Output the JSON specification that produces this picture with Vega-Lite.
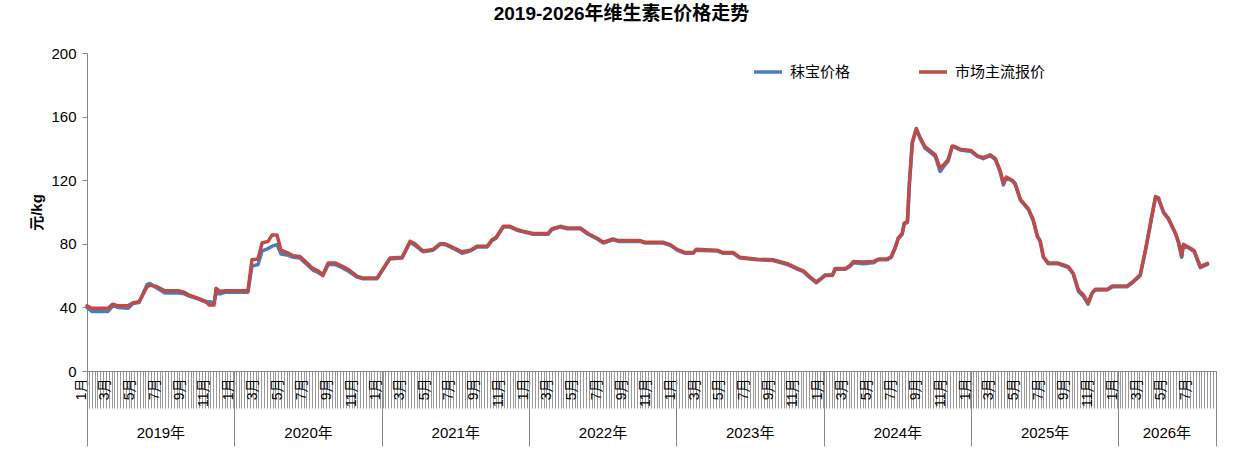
{
  "$schema": "https://vega.github.io/schema/vega-lite/v6.json",
  "autosize": {"type": "none"},
  "width": 1129,
  "height": 318,
  "padding": {"left": 87, "top": 53, "right": 26, "bottom": 86},
  "background": "white",
  "title": {"text": "2019-2026年维生素E价格走势", "fontSize": 19, "fontWeight": "bold", "color": "black", "anchor": "middle", "offset": 22, "dx": -30, "font": "Liberation Sans, Noto Sans CJK SC"},
  "config": {"font": "Liberation Sans, Noto Sans CJK SC", "view": {"stroke": null}},
  "data": {"values": [
    {"d":"2019-01-01","秣宝价格":40,"市场主流报价":41},
    {"d":"2019-01-13","秣宝价格":37.5,"市场主流报价":39.5},
    {"d":"2019-02-22","秣宝价格":37.5,"市场主流报价":39.5},
    {"d":"2019-03-06","秣宝价格":41,"市场主流报价":42},
    {"d":"2019-03-19","秣宝价格":40,"市场主流报价":41},
    {"d":"2019-04-13","秣宝价格":39.5,"市场主流报价":41},
    {"d":"2019-04-25","秣宝价格":42.5,"市场主流报价":43},
    {"d":"2019-05-10","秣宝价格":43,"市场主流报价":43.5},
    {"d":"2019-05-30","秣宝价格":54.5,"市场主流报价":53},
    {"d":"2019-06-06","秣宝价格":55,"市场主流报价":54},
    {"d":"2019-06-24","秣宝价格":52,"市场主流报价":53},
    {"d":"2019-07-13","秣宝价格":49,"市场主流报价":50.5},
    {"d":"2019-08-15","秣宝价格":49,"市场主流报价":50.5},
    {"d":"2019-08-30","秣宝价格":48.5,"市场主流报价":49.5},
    {"d":"2019-09-13","秣宝价格":47,"市场主流报价":47.5},
    {"d":"2019-10-01","秣宝价格":45.5,"市场主流报价":46},
    {"d":"2019-10-21","秣宝价格":43.5,"市场主流报价":44},
    {"d":"2019-10-31","秣宝价格":43.5,"市场主流报价":41.5},
    {"d":"2019-11-12","秣宝价格":43,"市场主流报价":41.5},
    {"d":"2019-11-17","秣宝价格":49,"市场主流报价":52},
    {"d":"2019-11-27","秣宝价格":48.5,"市场主流报价":50},
    {"d":"2019-12-09","秣宝价格":49.5,"市场主流报价":50.5},
    {"d":"2020-02-04","秣宝价格":49.5,"市场主流报价":50.5},
    {"d":"2020-02-14","秣宝价格":66,"市场主流报价":70},
    {"d":"2020-02-29","秣宝价格":67,"市场主流报价":70.5},
    {"d":"2020-03-10","秣宝价格":75.5,"市场主流报价":80.5},
    {"d":"2020-03-25","秣宝价格":77,"市场主流报价":81.5},
    {"d":"2020-04-04","秣宝价格":78.5,"市场主流报价":85.5},
    {"d":"2020-04-16","秣宝价格":79.5,"市场主流报价":85.5},
    {"d":"2020-04-26","秣宝价格":73.5,"市场主流报价":76},
    {"d":"2020-05-11","秣宝价格":73,"市场主流报价":74.5},
    {"d":"2020-05-26","秣宝价格":71.5,"市场主流报价":72.5},
    {"d":"2020-06-12","秣宝价格":71,"市场主流报价":72},
    {"d":"2020-06-25","秣宝价格":68,"市场主流报价":69},
    {"d":"2020-07-14","秣宝价格":63.5,"市场主流报价":64.5},
    {"d":"2020-07-27","秣宝价格":62,"市场主流报价":63},
    {"d":"2020-08-08","秣宝价格":60,"市场主流报价":60.5},
    {"d":"2020-08-21","秣宝价格":67,"市场主流报价":68},
    {"d":"2020-09-07","秣宝价格":67,"市场主流报价":68},
    {"d":"2020-09-24","秣宝价格":65,"市场主流报价":66},
    {"d":"2020-10-09","秣宝价格":63,"市场主流报价":64},
    {"d":"2020-11-01","秣宝价格":59,"市场主流报价":59.5},
    {"d":"2020-11-15","秣宝价格":58,"市场主流报价":58.5},
    {"d":"2020-12-20","秣宝价格":58,"市场主流报价":58.5},
    {"d":"2021-01-21","秣宝价格":70.5,"市场主流报价":71},
    {"d":"2021-02-20","秣宝价格":71,"市场主流报价":71.5},
    {"d":"2021-03-12","秣宝价格":81,"市场主流报价":81.5},
    {"d":"2021-03-24","秣宝价格":79,"市场主流报价":80},
    {"d":"2021-04-13","秣宝价格":75,"市场主流报价":75.5},
    {"d":"2021-04-26","秣宝价格":75.5,"市场主流报价":76},
    {"d":"2021-05-08","秣宝价格":76,"市场主流报价":76.5},
    {"d":"2021-05-25","秣宝价格":79.5,"市场主流报价":80},
    {"d":"2021-06-07","秣宝价格":79.5,"市场主流报价":80},
    {"d":"2021-06-19","秣宝价格":78,"市场主流报价":78.5},
    {"d":"2021-07-02","秣宝价格":76.5,"市场主流报价":77},
    {"d":"2021-07-19","秣宝价格":74,"市场主流报价":75},
    {"d":"2021-08-08","秣宝价格":75.5,"市场主流报价":76},
    {"d":"2021-08-25","秣宝价格":78,"市场主流报价":78.5},
    {"d":"2021-09-19","秣宝价格":78,"市场主流报价":78.5},
    {"d":"2021-10-01","秣宝价格":82,"市场主流报价":82.5},
    {"d":"2021-10-11","秣宝价格":83.5,"市场主流报价":84},
    {"d":"2021-10-29","秣宝价格":90.5,"市场主流报价":91},
    {"d":"2021-11-15","秣宝价格":90.5,"市场主流报价":91},
    {"d":"2021-12-02","秣宝价格":88.5,"市场主流报价":89},
    {"d":"2021-12-17","秣宝价格":87.5,"市场主流报价":88},
    {"d":"2022-01-11","秣宝价格":86,"市场主流报价":86.5},
    {"d":"2022-02-17","秣宝价格":86,"市场主流报价":86.5},
    {"d":"2022-02-27","秣宝价格":89,"市场主流报价":89.5},
    {"d":"2022-03-19","秣宝价格":90.5,"市场主流报价":91},
    {"d":"2022-04-05","秣宝价格":89.5,"市场主流报价":90},
    {"d":"2022-05-08","秣宝价格":89.5,"市场主流报价":90},
    {"d":"2022-05-27","秣宝价格":86,"市场主流报价":86.5},
    {"d":"2022-06-19","秣宝价格":83,"市场主流报价":83.5},
    {"d":"2022-07-04","秣宝价格":80.5,"市场主流报价":81},
    {"d":"2022-07-28","秣宝价格":82.5,"市场主流报价":83},
    {"d":"2022-08-10","秣宝价格":81.5,"市场主流报价":82},
    {"d":"2022-10-03","秣宝价格":81.5,"市场主流报价":82},
    {"d":"2022-10-16","秣宝价格":80.5,"市场主流报价":81},
    {"d":"2022-11-29","秣宝价格":80.5,"市场主流报价":81},
    {"d":"2022-12-17","秣宝价格":79,"市场主流报价":79.5},
    {"d":"2023-01-03","秣宝价格":76,"市场主流报价":76.5},
    {"d":"2023-01-23","秣宝价格":74,"市场主流报价":74.5},
    {"d":"2023-02-12","秣宝价格":74,"市场主流报价":74.5},
    {"d":"2023-02-19","秣宝价格":76,"市场主流报价":76.5},
    {"d":"2023-04-12","秣宝价格":75.5,"市场主流报价":76},
    {"d":"2023-04-27","秣宝价格":74,"市场主流报价":74.5},
    {"d":"2023-05-22","秣宝价格":74,"市场主流报价":74.5},
    {"d":"2023-06-08","秣宝价格":71,"市场主流报价":71.5},
    {"d":"2023-07-21","秣宝价格":70,"市场主流报价":70.3},
    {"d":"2023-08-29","秣宝价格":69.5,"市场主流报价":70},
    {"d":"2023-10-03","秣宝价格":67,"市场主流报价":67.5},
    {"d":"2023-10-28","秣宝价格":64,"市场主流报价":64.5},
    {"d":"2023-11-12","秣宝价格":62.5,"市场主流报价":63},
    {"d":"2023-11-29","秣宝价格":58.5,"市场主流报价":59},
    {"d":"2023-12-14","秣宝价格":55.5,"市场主流报价":56},
    {"d":"2023-12-24","秣宝价格":57.5,"市场主流报价":58},
    {"d":"2024-01-05","秣宝价格":60,"市场主流报价":60.4},
    {"d":"2024-01-23","秣宝价格":60,"市场主流报价":60.4},
    {"d":"2024-01-30","秣宝价格":64,"市场主流报价":64.5},
    {"d":"2024-02-24","秣宝价格":64,"市场主流报价":64.5},
    {"d":"2024-03-05","秣宝价格":65.5,"市场主流报价":66},
    {"d":"2024-03-15","秣宝价格":68,"市场主流报价":68.8},
    {"d":"2024-04-09","秣宝价格":67.5,"市场主流报价":68.5},
    {"d":"2024-05-03","秣宝价格":68,"市场主流报价":68.8},
    {"d":"2024-05-16","秣宝价格":70,"市场主流报价":70.4},
    {"d":"2024-06-07","秣宝价格":70,"市场主流报价":70.4},
    {"d":"2024-06-17","秣宝价格":71.5,"市场主流报价":72},
    {"d":"2024-06-27","秣宝价格":77.5,"市场主流报价":78},
    {"d":"2024-07-04","秣宝价格":83,"市场主流报价":83.5},
    {"d":"2024-07-14","秣宝价格":86,"市场主流报价":86.5},
    {"d":"2024-07-19","秣宝价格":92.5,"市场主流报价":93},
    {"d":"2024-07-27","秣宝价格":93.5,"市场主流报价":94},
    {"d":"2024-08-01","秣宝价格":118,"市场主流报价":119},
    {"d":"2024-08-08","秣宝价格":143,"市场主流报价":144},
    {"d":"2024-08-18","秣宝价格":152,"市场主流报价":152.5},
    {"d":"2024-08-28","秣宝价格":146,"市场主流报价":146.5},
    {"d":"2024-09-09","秣宝价格":140,"市场主流报价":141},
    {"d":"2024-09-22","秣宝价格":137.5,"市场主流报价":138.5},
    {"d":"2024-10-04","秣宝价格":135,"市场主流报价":136},
    {"d":"2024-10-16","秣宝价格":125.5,"市场主流报价":127.5},
    {"d":"2024-10-26","秣宝价格":129,"市场主流报价":130},
    {"d":"2024-11-05","秣宝价格":132,"市场主流报价":133},
    {"d":"2024-11-15","秣宝价格":141,"市场主流报价":141.5},
    {"d":"2024-11-23","秣宝价格":140.5,"市场主流报价":141},
    {"d":"2024-12-05","秣宝价格":139,"市场主流报价":139.5},
    {"d":"2025-01-01","秣宝价格":138,"市场主流报价":138.7},
    {"d":"2025-01-16","秣宝价格":135,"市场主流报价":135.5},
    {"d":"2025-01-31","秣宝价格":133.5,"市场主流报价":134.2},
    {"d":"2025-02-17","秣宝价格":135.5,"市场主流报价":136},
    {"d":"2025-03-02","秣宝价格":133,"市场主流报价":133.6},
    {"d":"2025-03-14","秣宝价格":125,"市场主流报价":126},
    {"d":"2025-03-22","秣宝价格":117,"市场主流报价":118},
    {"d":"2025-03-29","秣宝价格":121.5,"市场主流报价":122},
    {"d":"2025-04-13","秣宝价格":119.5,"市场主流报价":120},
    {"d":"2025-04-20","秣宝价格":117.5,"市场主流报价":118},
    {"d":"2025-05-03","秣宝价格":107.5,"市场主流报价":108},
    {"d":"2025-05-23","秣宝价格":101.5,"市场主流报价":102},
    {"d":"2025-06-04","秣宝价格":94.5,"市场主流报价":95},
    {"d":"2025-06-14","秣宝价格":84.5,"市场主流报价":85},
    {"d":"2025-06-21","秣宝价格":81.5,"市场主流报价":82},
    {"d":"2025-06-29","秣宝价格":71.5,"市场主流报价":72},
    {"d":"2025-07-11","秣宝价格":67.5,"市场主流报价":68},
    {"d":"2025-08-03","秣宝价格":67.5,"市场主流报价":68},
    {"d":"2025-08-15","秣宝价格":66.5,"市场主流报价":67},
    {"d":"2025-08-30","秣宝价格":65,"市场主流报价":65.6},
    {"d":"2025-09-11","秣宝价格":61,"市场主流报价":61.5},
    {"d":"2025-09-24","秣宝价格":50,"市场主流报价":51},
    {"d":"2025-10-06","秣宝价格":47,"市场主流报价":48},
    {"d":"2025-10-18","秣宝价格":42,"市场主流报价":43},
    {"d":"2025-10-28","秣宝价格":48.8,"市场主流报价":49.3},
    {"d":"2025-11-05","秣宝价格":51,"市场主流报价":51.4},
    {"d":"2025-12-05","秣宝价格":51,"市场主流报价":51.4},
    {"d":"2025-12-17","秣宝价格":53,"市场主流报价":53.5},
    {"d":"2026-01-23","秣宝价格":53,"市场主流报价":53.5},
    {"d":"2026-02-05","秣宝价格":55.5,"市场主流报价":56},
    {"d":"2026-02-24","秣宝价格":60,"市场主流报价":60.5},
    {"d":"2026-03-09","秣宝价格":75.5,"市场主流报价":76},
    {"d":"2026-03-16","秣宝价格":85,"市场主流报价":85.5},
    {"d":"2026-03-26","秣宝价格":98.5,"市场主流报价":99},
    {"d":"2026-04-03","秣宝价格":109,"市场主流报价":109.7},
    {"d":"2026-04-10","秣宝价格":108.5,"市场主流报价":109},
    {"d":"2026-04-23","秣宝价格":99.5,"市场主流报价":100},
    {"d":"2026-05-05","秣宝价格":95.5,"市场主流报价":96},
    {"d":"2026-05-23","秣宝价格":86,"市场主流报价":86.5},
    {"d":"2026-05-30","秣宝价格":80.5,"市场主流报价":81.3},
    {"d":"2026-06-07","秣宝价格":71.5,"市场主流报价":72.3},
    {"d":"2026-06-11","秣宝价格":79,"市场主流报价":79.7},
    {"d":"2026-06-29","秣宝价格":76.7,"市场主流报价":77.2},
    {"d":"2026-07-08","秣宝价格":75,"市场主流报价":75.7},
    {"d":"2026-07-23","秣宝价格":65,"市场主流报价":65.6},
    {"d":"2026-08-10","秣宝价格":67,"市场主流报价":67.7}
  ]},
  "transform": [{"fold": ["秣宝价格", "市场主流报价"], "as": ["series", "value"]}],
  "layer": [
    {
      "mark": {"type": "line", "strokeWidth": 3.5, "strokeJoin": "round", "strokeCap": "round"},
      "encoding": {
        "x": {"field": "d", "type": "temporal",
          "scale": {"type": "utc", "nice": false, "domain": [{"year": 2019, "month": 1, "date": 1, "utc": true}, {"year": 2026, "month": 8, "date": 31, "utc": true}]},
          "axis": {"orient": "bottom", "title": null, "labels": false, "grid": false, "domain": true, "domainColor": "#888888", "domainWidth": 1, "ticks": true, "tickCount": {"interval": "week", "step": 1}, "tickSize": 37, "tickColor": "#999999", "tickWidth": 1}},
        "y": {"field": "value", "type": "quantitative",
          "scale": {"domain": [0, 200], "nice": false, "zero": true},
          "axis": {"orient": "left", "title": "元/kg", "titleFontSize": 15, "titleFontWeight": "bold", "titleColor": "black", "titlePadding": 6, "values": [0, 40, 80, 120, 160, 200], "grid": false, "domainColor": "#888888", "tickColor": "#888888", "tickSize": 5, "labelFontSize": 15, "labelColor": "black", "labelPadding": 6}},
        "color": {"field": "series", "type": "nominal",
          "scale": {"domain": ["秣宝价格", "市场主流报价"], "range": ["#4A7EBB", "#BE4B48"]},
          "legend": {"orient": "none", "legendX": 665, "legendY": 3, "direction": "horizontal", "title": null, "symbolType": "stroke", "symbolStrokeWidth": 3.5, "symbolSize": 784, "labelFontSize": 15, "labelColor": "black", "labelOffset": 6, "columnPadding": 61}}
      }
    },
    {
      "mark": {"type": "line", "strokeOpacity": 0},
      "encoding": {
        "x": {"field": "d", "type": "temporal",
          "scale": {"type": "utc", "nice": false, "domain": [{"year": 2019, "month": 1, "date": 1, "utc": true}, {"year": 2026, "month": 8, "date": 31, "utc": true}]},
          "axis": {"orient": "bottom", "title": null, "grid": false, "domain": false, "ticks": false, "tickCount": {"interval": "month", "step": 2}, "labelExpr": "utcFormat(datum.value, '%-m') + '月'", "labelAngle": 270, "labelFontSize": 14, "labelColor": "black", "labelPadding": 7, "labelOffset": -6, "labelOverlap": false, "labelFlush": false}},
        "y": {"field": "value", "type": "quantitative", "axis": null}
      }
    },
    {
      "mark": {"type": "line", "strokeOpacity": 0},
      "encoding": {
        "x": {"field": "d", "type": "temporal",
          "scale": {"type": "utc", "nice": false, "domain": [{"year": 2019, "month": 1, "date": 1, "utc": true}, {"year": 2026, "month": 8, "date": 31, "utc": true}]},
          "axis": {"orient": "bottom", "title": null, "grid": false, "domain": false, "labels": false, "ticks": true, "tickSize": 75, "tickColor": "#888888", "tickWidth": 1,
            "values": [{"year": 2019, "month": 1, "date": 1, "utc": true}, {"year": 2020, "month": 1, "date": 1, "utc": true}, {"year": 2021, "month": 1, "date": 1, "utc": true}, {"year": 2022, "month": 1, "date": 1, "utc": true}, {"year": 2023, "month": 1, "date": 1, "utc": true}, {"year": 2024, "month": 1, "date": 1, "utc": true}, {"year": 2025, "month": 1, "date": 1, "utc": true}, {"year": 2026, "month": 1, "date": 1, "utc": true}, {"year": 2026, "month": 8, "date": 31, "utc": true}]}},
        "y": {"field": "value", "type": "quantitative", "axis": null}
      }
    },
    {
      "mark": {"type": "line", "strokeOpacity": 0},
      "encoding": {
        "x": {"field": "d", "type": "temporal",
          "scale": {"type": "utc", "nice": false, "domain": [{"year": 2019, "month": 1, "date": 1, "utc": true}, {"year": 2026, "month": 8, "date": 31, "utc": true}]},
          "axis": {"orient": "bottom", "title": null, "grid": false, "domain": false, "ticks": false, "labelExpr": "utcFormat(datum.value, '%Y') + '年'", "labelAngle": 0, "labelFontSize": 15, "labelColor": "black", "labelPadding": 54, "labelOverlap": false, "labelFlush": false,
            "values": [{"year": 2019, "month": 7, "date": 2, "utc": true}, {"year": 2020, "month": 7, "date": 2, "utc": true}, {"year": 2021, "month": 7, "date": 2, "utc": true}, {"year": 2022, "month": 7, "date": 2, "utc": true}, {"year": 2023, "month": 7, "date": 2, "utc": true}, {"year": 2024, "month": 7, "date": 2, "utc": true}, {"year": 2025, "month": 7, "date": 2, "utc": true}, {"year": 2026, "month": 4, "date": 30, "utc": true}]}},
        "y": {"field": "value", "type": "quantitative", "axis": null}
      }
    }
  ],
  "resolve": {"axis": {"x": "independent", "y": "independent"}}
}
